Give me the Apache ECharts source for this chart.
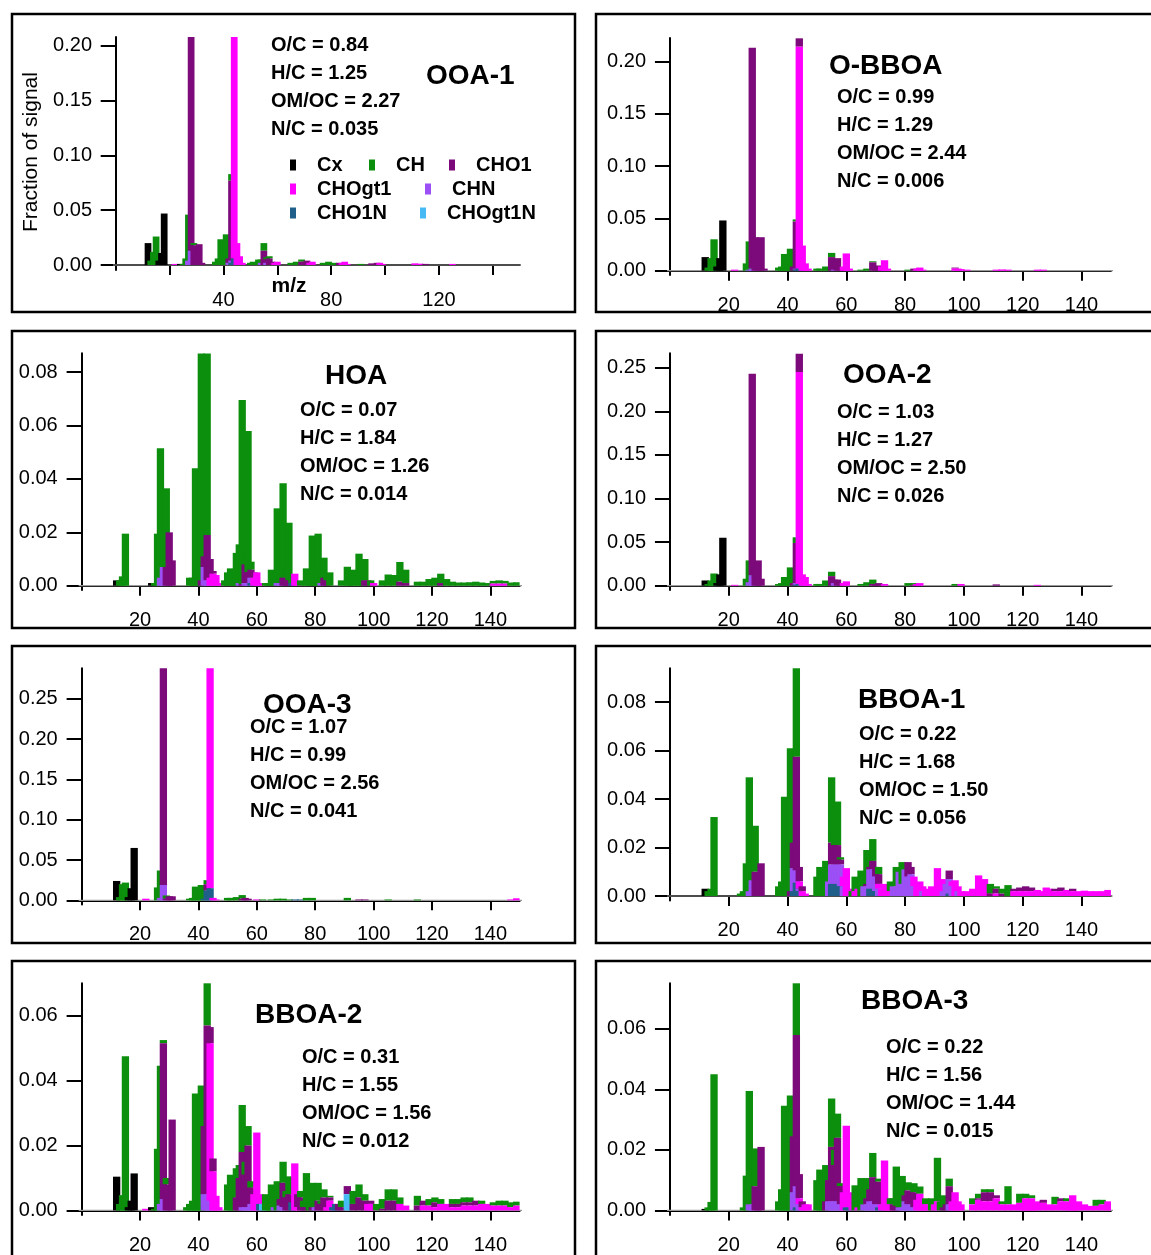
<!DOCTYPE html>
<html><head><meta charset="utf-8">
<script src="https://cdn.jsdelivr.net/npm/echarts@6/dist/echarts.min.js"></script>
<style>html,body{margin:0;padding:0;background:#fff}#c{width:1151px;height:1255px}</style>
</head><body><div id="c"></div>
<script>
// ---------- categories / labels ----------
const SPECIES = ['Cx','CH','CHO1','CHOgt1','CHN','CHO1N','CHOgt1N'];
const STACK_ORDER = ['CHOgt1N','CHO1N','CHN','CHOgt1','CHO1','CH','Cx']; // bottom -> top
const PANEL_NAMES = ['OOA-1','O-BBOA','HOA','OOA-2','OOA-3','BBOA-1','BBOA-2','BBOA-3'];
const PANEL_STATS = [
  ['O/C = 0.84','H/C = 1.25','OM/OC = 2.27','N/C = 0.035'],
  ['O/C = 0.99','H/C = 1.29','OM/OC = 2.44','N/C = 0.006'],
  ['O/C = 0.07','H/C = 1.84','OM/OC = 1.26','N/C = 0.014'],
  ['O/C = 1.03','H/C = 1.27','OM/OC = 2.50','N/C = 0.026'],
  ['O/C = 1.07','H/C = 0.99','OM/OC = 2.56','N/C = 0.041'],
  ['O/C = 0.22','H/C = 1.68','OM/OC = 1.50','N/C = 0.056'],
  ['O/C = 0.31','H/C = 1.55','OM/OC = 1.56','N/C = 0.012'],
  ['O/C = 0.22','H/C = 1.56','OM/OC = 1.44','N/C = 0.015']
];
const Y_TICKS = [
  [0,0.05,0.10,0.15,0.20],
  [0,0.05,0.10,0.15,0.20],
  [0,0.02,0.04,0.06,0.08],
  [0,0.05,0.10,0.15,0.20,0.25],
  [0,0.05,0.10,0.15,0.20,0.25],
  [0,0.02,0.04,0.06,0.08],
  [0,0.02,0.04,0.06],
  [0,0.02,0.04,0.06]
];
const Y_MAX = [0.2082,0.2223,0.0871,0.2665,0.288,0.094,0.070,0.0751];
const X_TICKS = [20,40,60,80,100,120,140];
const X_LABELS_FIRST = [40,80,120];
const X_MIN = -1, X_MAX = 150;

// ---------- series values: [m/z, fraction of signal] ----------
// OOA-1
const ooa1_Cx = [[12,0.020],[16,0.004],[17,0.011],[18,0.047],[24,0.001]];
const ooa1_CH = [[13,0.004],[14,0.012],[15,0.026],[25,0.001],[26,0.006],[27,0.042],[29,0.002],[37,0.003],[38,0.006],[39,0.0235],[40,0.004],[41,0.028],[42,0.008],[43,0.006],[50,0.002],[51,0.003],[52,0.002],[53,0.005],[54,0.003],[55,0.007],[56,0.002],[57,0.002],[65,0.002],[67,0.003],[69,0.002],[77,0.002],[79,0.003],[81,0.002],[91,0.001]];
const ooa1_CHO1 = [[28,0.26],[29,0.018],[30,0.010],[31,0.019],[32,0.002],[42,0.004],[43,0.073],[44,0.005],[55,0.013],[56,0.003],[57,0.006],[58,0.003],[69,0.003],[70,0.003],[71,0.004],[83,0.002],[95,0.0015],[97,0.002],[115,0.001]];
const ooa1_CHOgt1 = [[22,0.001],[44,0.25],[45,0.02],[46,0.008],[47,0.002],[59,0.002],[60,0.003],[72,0.002],[73,0.003],[84,0.002],[85,0.003],[86,0.001],[98,0.002],[99,0.001],[111,0.0015],[113,0.0012],[125,0.001]];
const ooa1_CHN = [[27,0.004],[28,0.013],[42,0.002],[43,0.002],[54,0.002],[56,0.002]];
const ooa1_CHO1N = [[43,0.002],[44,0.006]];
const ooa1_CHOgt1N = [];
// O-BBOA
const obboa_Cx = [[12,0.013],[16,0.004],[17,0.012],[18,0.048]];
const obboa_CH = [[13,0.003],[14,0.012],[15,0.030],[26,0.007],[27,0.027],[37,0.003],[38,0.004],[39,0.016],[40,0.003],[41,0.021],[42,0.006],[43,0.002],[50,0.002],[51,0.002],[53,0.004],[54,0.002],[55,0.004],[65,0.001],[67,0.002],[69,0.001],[81,0.001]];
const obboa_CHO1 = [[28,0.211],[29,0.032],[30,0.010],[31,0.032],[32,0.002],[42,0.004],[43,0.045],[44,0.008],[55,0.013],[56,0.004],[57,0.012],[58,0.003],[69,0.008],[70,0.002],[71,0.005],[83,0.002],[97,0.001]];
const obboa_CHOgt1 = [[22,0.001],[44,0.212],[45,0.024],[46,0.007],[47,0.002],[59,0.004],[60,0.0165],[61,0.002],[72,0.004],[73,0.010],[74,0.002],[84,0.002],[85,0.003],[86,0.001],[97,0.002],[98,0.002],[99,0.0015],[101,0.001],[111,0.001],[113,0.0012],[115,0.001],[125,0.001],[127,0.001]];
const obboa_CHN = [[27,0.001],[28,0.002],[43,0.001],[56,0.001]];
const obboa_CHO1N = [[43,0.001],[44,0.002]];
const obboa_CHOgt1N = [];
// HOA
const hoa_Cx = [[12,0.002],[24,0.001]];
const hoa_CH = [[13,0.002],[14,0.0035],[15,0.0195],[25,0.001],[26,0.0195],[27,0.0485],[28,0.002],[29,0.0295],[37,0.003],[38,0.003],[39,0.044],[40,0.004],[41,0.085],[42,0.005],[43,0.068],[49,0.002],[50,0.005],[51,0.0065],[52,0.003],[53,0.0123],[54,0.0145],[55,0.069],[56,0.003],[57,0.053],[58,0.003],[63,0.001],[64,0.001],[65,0.006],[66,0.003],[67,0.028],[68,0.005],[69,0.0354],[70,0.003],[71,0.0216],[72,0.002],[75,0.002],[77,0.0065],[78,0.003],[79,0.0188],[80,0.003],[81,0.0195],[82,0.003],[83,0.0075],[84,0.002],[85,0.005],[89,0.002],[91,0.0071],[92,0.002],[93,0.006],[95,0.012],[96,0.002],[97,0.008],[99,0.002],[103,0.002],[105,0.0042],[107,0.004],[109,0.0074],[111,0.005],[115,0.0015],[117,0.0015],[119,0.0025],[121,0.003],[123,0.0035],[125,0.0025],[127,0.0015],[129,0.0012],[131,0.0012],[133,0.0013],[135,0.0015],[137,0.0012],[139,0.001],[141,0.001],[143,0.0012],[145,0.001],[147,0.0012],[149,0.0013]];
const hoa_CHO1 = [[29,0.007],[30,0.020],[31,0.0095],[41,0.002],[42,0.004],[43,0.017],[44,0.007],[45,0.001],[55,0.0006],[56,0.007],[57,0.004],[58,0.003],[59,0.002],[69,0.003],[70,0.003],[71,0.002],[83,0.003],[84,0.002],[97,0.002],[98,0.002],[109,0.0015],[111,0.001],[123,0.001]];
const hoa_CHOgt1 = [[44,0.003],[45,0.0045],[46,0.004],[47,0.001],[59,0.003],[60,0.005],[61,0.001],[73,0.0045],[74,0.001],[100,0.001],[141,0.0008],[143,0.0008],[145,0.0008]];
const hoa_CHN = [[27,0.003],[28,0.007],[42,0.007],[43,0.002],[54,0.001],[56,0.001],[57,0.001],[58,0.002],[67,0.001],[68,0.001],[82,0.001]];
const hoa_CHO1N = [[58,0.001],[72,0.001]];
const hoa_CHOgt1N = [];
// OOA-2
const ooa2_Cx = [[12,0.006],[16,0.003],[17,0.013],[18,0.055]];
const ooa2_CH = [[13,0.002],[14,0.006],[15,0.014],[26,0.008],[27,0.025],[37,0.002],[38,0.003],[39,0.010],[40,0.003],[41,0.021],[42,0.006],[43,0.0065],[50,0.002],[51,0.002],[53,0.006],[54,0.002],[55,0.005],[65,0.002],[67,0.004],[69,0.005],[81,0.003],[83,0.002],[97,0.002]];
const ooa2_CHO1 = [[28,0.231],[29,0.020],[30,0.029],[31,0.008],[42,0.003],[43,0.046],[44,0.021],[55,0.011],[56,0.004],[57,0.007],[58,0.003],[69,0.002],[70,0.002],[71,0.003],[83,0.001],[111,0.0015]];
const ooa2_CHOgt1 = [[22,0.001],[44,0.243],[45,0.013],[46,0.010],[47,0.002],[59,0.003],[60,0.005],[73,0.002],[84,0.002],[85,0.003],[99,0.002],[125,0.001]];
const ooa2_CHN = [[27,0.004],[28,0.012],[43,0.002],[56,0.003]];
const ooa2_CHO1N = [[43,0.001],[44,0.002]];
const ooa2_CHOgt1N = [];
// OOA-3
const ooa3_Cx = [[12,0.024],[16,0.004],[17,0.015],[18,0.065]];
const ooa3_CH = [[13,0.004],[14,0.020],[15,0.022],[26,0.016],[27,0.034],[29,0.004],[37,0.002],[38,0.003],[39,0.017],[40,0.003],[41,0.019],[42,0.004],[43,0.005],[50,0.003],[51,0.003],[53,0.004],[55,0.0045],[62,0.001],[65,0.001],[67,0.002],[69,0.002],[71,0.001],[77,0.003],[79,0.003],[91,0.003],[105,0.001],[115,0.001]];
const ooa3_CHO1 = [[28,0.30],[29,0.002],[30,0.005],[31,0.005],[43,0.008],[44,0.003],[55,0.002],[56,0.003],[57,0.002],[95,0.001],[97,0.001]];
const ooa3_CHOgt1 = [[22,0.002],[44,0.30],[45,0.003],[46,0.001],[60,0.001],[147,0.001],[149,0.0025]];
const ooa3_CHN = [[27,0.003],[28,0.019]];
const ooa3_CHO1N = [[42,0.002],[43,0.012],[44,0.015],[73,0.001],[75,0.001]];
const ooa3_CHOgt1N = [];
// BBOA-1
const bboa1_Cx = [[12,0.003]];
const bboa1_CH = [[13,0.002],[14,0.003],[15,0.0326],[24,0.001],[25,0.002],[26,0.0135],[27,0.047],[28,0.003],[29,0.019],[37,0.004],[38,0.006],[39,0.041],[40,0.004],[41,0.059],[43,0.0368],[50,0.008],[51,0.012],[52,0.004],[53,0.0145],[54,0.004],[55,0.027],[56,0.004],[57,0.018],[58,0.001],[62,0.002],[63,0.006],[64,0.002],[65,0.0105],[66,0.005],[67,0.014],[68,0.004],[69,0.009],[71,0.003],[75,0.004],[77,0.008],[79,0.009],[80,0.001],[109,0.004],[111,0.001],[113,0.002],[115,0.0045]];
const bboa1_CHO1 = [[29,0.010],[30,0.007],[31,0.0135],[41,0.002],[42,0.0105],[43,0.047],[44,0.006],[45,0.002],[55,0.009],[56,0.008],[57,0.008],[58,0.002],[67,0.001],[68,0.001],[69,0.0035],[70,0.004],[71,0.004],[81,0.006],[82,0.003],[95,0.0035],[109,0.001],[111,0.002],[113,0.001],[117,0.001],[119,0.0015],[121,0.002],[123,0.0015],[131,0.001],[133,0.0015],[137,0.001]];
const bboa1_CHOgt1 = [[44,0.003],[45,0.002],[46,0.001],[59,0.004],[60,0.0115],[61,0.003],[63,0.002],[64,0.003],[71,0.002],[72,0.003],[73,0.005],[74,0.003],[75,0.002],[83,0.004],[84,0.005],[85,0.006],[86,0.002],[87,0.003],[88,0.002],[89,0.004],[90,0.002],[91,0.0115],[92,0.004],[93,0.005],[96,0.002],[97,0.0065],[98,0.002],[99,0.002],[101,0.002],[103,0.003],[105,0.0085],[106,0.004],[107,0.007],[108,0.003],[111,0.001],[117,0.002],[119,0.002],[121,0.002],[123,0.002],[125,0.0025],[127,0.002],[128,0.0035],[129,0.003],[131,0.002],[133,0.002],[135,0.0025],[137,0.002],[139,0.002],[141,0.0022],[143,0.002],[145,0.002],[147,0.002],[149,0.0025]];
const bboa1_CHN = [[27,0.002],[28,0.0065],[42,0.0095],[43,0.005],[44,0.001],[54,0.006],[55,0.008],[56,0.008],[57,0.008],[58,0.009],[59,0.004],[66,0.004],[67,0.004],[68,0.008],[69,0.008],[70,0.006],[71,0.003],[76,0.004],[77,0.004],[78,0.010],[79,0.005],[80,0.011],[81,0.008],[82,0.009],[83,0.004],[86,0.002],[93,0.002],[94,0.005],[95,0.006],[96,0.004],[98,0.002]];
const bboa1_CHO1N = [[42,0.002],[43,0.0055],[44,0.002],[55,0.005],[56,0.005],[57,0.005],[58,0.004],[68,0.003],[69,0.003],[70,0.002],[95,0.001]];
const bboa1_CHOgt1N = [];
// BBOA-2
const bboa2_Cx = [[12,0.0104],[16,0.001],[17,0.003],[18,0.0114],[24,0.001]];
const bboa2_CH = [[13,0.002],[14,0.0047],[15,0.0475],[25,0.0005],[26,0.019],[27,0.0426],[28,0.001],[29,0.002],[36,0.001],[37,0.002],[38,0.003],[39,0.036],[40,0.003],[41,0.0385],[43,0.013],[50,0.008],[51,0.011],[52,0.004],[53,0.009],[54,0.004],[55,0.0145],[56,0.004],[57,0.006],[58,0.002],[63,0.005],[64,0.001],[65,0.008],[66,0.003],[67,0.009],[68,0.003],[69,0.0065],[70,0.002],[71,0.0055],[75,0.002],[76,0.002],[77,0.0105],[78,0.002],[79,0.0075],[80,0.001],[81,0.0055],[82,0.001],[83,0.0025],[85,0.0005],[89,0.002],[93,0.004],[95,0.004],[97,0.002],[101,0.002],[103,0.003],[105,0.0035],[107,0.0035],[109,0.002],[115,0.003],[119,0.002],[121,0.0015],[123,0.0015],[127,0.0015],[129,0.0015],[131,0.0015],[133,0.0015],[137,0.001],[141,0.001],[143,0.0015],[145,0.0015],[147,0.0015],[149,0.0012]];
const bboa2_CHO1 = [[28,0.048],[29,0.008],[30,0.004],[31,0.028],[42,0.021],[43,0.052],[44,0.005],[45,0.004],[53,0.004],[54,0.010],[55,0.017],[56,0.010],[57,0.019],[58,0.005],[59,0.002],[68,0.002],[69,0.0075],[70,0.004],[71,0.005],[72,0.002],[74,0.004],[75,0.004],[76,0.001],[77,0.001],[79,0.001],[81,0.003],[82,0.002],[83,0.004],[84,0.002],[85,0.001],[88,0.002],[89,0.001],[91,0.0025],[93,0.002],[95,0.004],[97,0.003],[99,0.001],[103,0.0005],[105,0.003],[107,0.003],[115,0.0015],[117,0.0015],[121,0.0015],[127,0.001],[129,0.001],[131,0.001],[133,0.001],[135,0.0015]];
const bboa2_CHOgt1 = [[22,0.0005],[44,0.0485],[45,0.012],[46,0.0045],[47,0.001],[59,0.005],[60,0.024],[61,0.003],[73,0.0145],[74,0.001],[84,0.001],[85,0.003],[86,0.001],[98,0.002],[99,0.002],[100,0.001],[109,0.002],[111,0.0015],[117,0.0015],[119,0.0015],[121,0.001],[123,0.002],[125,0.002],[127,0.001],[129,0.001],[131,0.0015],[133,0.0015],[135,0.0015],[137,0.002],[139,0.002],[141,0.0015],[143,0.0015],[145,0.0015],[147,0.001],[149,0.0015]];
const bboa2_CHN = [[27,0.002],[28,0.0035],[42,0.005],[43,0.005],[44,0.003],[55,0.001],[56,0.001],[57,0.001],[58,0.002],[66,0.001],[68,0.0015],[69,0.001],[80,0.001]];
const bboa2_CHO1N = [[61,0.002],[72,0.0025],[86,0.001],[87,0.002]];
const bboa2_CHOgt1N = [[62,0.002],[91,0.005]];
// BBOA-3
const bboa3_Cx = [[12,0.0005]];
const bboa3_CH = [[13,0.001],[14,0.0028],[15,0.045],[25,0.001],[26,0.0115],[27,0.0375],[28,0.003],[29,0.0125],[37,0.003],[38,0.007],[39,0.0346],[40,0.003],[41,0.038],[43,0.0171],[50,0.010],[51,0.0135],[52,0.004],[53,0.012],[54,0.004],[55,0.016],[56,0.005],[57,0.008],[58,0.001],[63,0.0083],[64,0.002],[65,0.0107],[66,0.004],[67,0.0067],[68,0.002],[69,0.008],[71,0.001],[75,0.002],[76,0.002],[77,0.013],[78,0.002],[79,0.0104],[81,0.0027],[83,0.003],[85,0.0024],[87,0.002],[89,0.004],[91,0.0144],[92,0.003],[93,0.004],[95,0.0025],[103,0.002],[105,0.0015],[107,0.001],[109,0.001],[113,0.001],[115,0.006],[119,0.003],[121,0.0015],[123,0.001],[131,0.0025],[135,0.001],[145,0.002],[147,0.0015]];
const bboa3_CHO1 = [[29,0.008],[30,0.005],[31,0.021],[42,0.0185],[43,0.050],[44,0.008],[45,0.002],[53,0.003],[54,0.007],[55,0.018],[56,0.012],[57,0.021],[58,0.006],[59,0.002],[67,0.002],[68,0.004],[69,0.008],[70,0.007],[71,0.0075],[72,0.003],[76,0.002],[77,0.0015],[80,0.002],[81,0.0046],[82,0.004],[83,0.005],[84,0.002],[93,0.001],[94,0.002],[95,0.006],[96,0.002],[105,0.0005],[107,0.003],[109,0.003],[111,0.001],[127,0.001],[133,0.001]];
const bboa3_CHOgt1 = [[44,0.002],[45,0.001],[46,0.002],[47,0.002],[59,0.006],[60,0.027],[61,0.005],[62,0.003],[64,0.001],[72,0.002],[73,0.0165],[74,0.004],[75,0.002],[84,0.0035],[85,0.0055],[86,0.003],[87,0.002],[88,0.002],[90,0.002],[91,0.003],[96,0.003],[97,0.006],[98,0.003],[99,0.002],[103,0.002],[105,0.0035],[107,0.003],[109,0.003],[111,0.004],[113,0.002],[115,0.002],[117,0.002],[119,0.0025],[120,0.0015],[121,0.004],[122,0.002],[123,0.004],[124,0.0015],[125,0.003],[127,0.0025],[129,0.002],[131,0.002],[133,0.003],[135,0.003],[136,0.002],[137,0.005],[138,0.002],[139,0.003],[141,0.002],[143,0.0015],[145,0.0015],[147,0.002],[149,0.003],[150,0.0025]];
const bboa3_CHN = [[27,0.002],[28,0.002],[42,0.006],[43,0.007],[44,0.002],[54,0.003],[55,0.003],[56,0.003],[57,0.003],[58,0.002],[66,0.002],[67,0.002],[68,0.003],[69,0.003],[70,0.002],[71,0.001],[78,0.001],[79,0.001],[80,0.003],[81,0.002],[82,0.002],[83,0.001],[95,0.002]];
const bboa3_CHO1N = [[43,0.001],[60,0.001],[61,0.001],[71,0.001]];
const bboa3_CHOgt1N = [];

// ---------- styles & layout ----------
const COLORS = {Cx:'#000000', CH:'#0c8f0c', CHO1:'#7c0a7a', CHOgt1:'#ff00ff', CHN:'#9b4ff5', CHO1N:'#1f5f8a', CHOgt1N:'#45baf5'};
const FONT = '"Liberation Sans", Arial, Helvetica, sans-serif';
const BAR_W = 2.5;
// left/right: pixel of m/z -1 and 150; top: axis top; zero: y of 0; bottom: x-axis line
const LAYOUT = [
  {left:113.0, right:519.8, top:37,    zero:265,    bottom:270},
  {left:667.0, right:1110.9,top:38,    zero:270.7,  bottom:275},
  {left:78.7,  right:519.6, top:353.3, zero:585.7,  bottom:590},
  {left:667.0, right:1110.9,top:353.3, zero:585.7,  bottom:590},
  {left:78.7,  right:519.6, top:668.3, zero:900.3,  bottom:904.6},
  {left:667.0, right:1110.9,top:668.3, zero:896,    bottom:900.6},
  {left:78.7,  right:519.6, top:983.3, zero:1211,   bottom:1215.6},
  {left:667.0, right:1110.9,top:983.3, zero:1215.3, bottom:1220}
];
const TEXT_POS = [
  {tx:426, ty:76,   sx:271, sy:45},
  {tx:829, ty:66,   sx:837, sy:97},
  {tx:325, ty:376,  sx:300, sy:410},
  {tx:843, ty:375,  sx:837, sy:412},
  {tx:263, ty:705,  sx:250, sy:727},
  {tx:858, ty:700,  sx:859, sy:734},
  {tx:255, ty:1015, sx:302, sy:1057},
  {tx:861, ty:1001, sx:886, sy:1047}
];
const BOXES = [
  [12,14,563,298],[596,14,580,298],
  [12,331,563,297],[596,331,580,297],
  [12,646,563,297],[596,646,580,297],
  [12,961,563,320],[596,961,580,320]
];
const LEGEND_POS = {Cx:[290,166], CH:[369,166], CHO1:[449,166], CHOgt1:[290,190], CHN:[425,190], CHO1N:[290,214], CHOgt1N:[420,214]};

const PANEL_SPECIES = [
  {Cx:ooa1_Cx, CH:ooa1_CH, CHO1:ooa1_CHO1, CHOgt1:ooa1_CHOgt1, CHN:ooa1_CHN, CHO1N:ooa1_CHO1N, CHOgt1N:ooa1_CHOgt1N},
  {Cx:obboa_Cx, CH:obboa_CH, CHO1:obboa_CHO1, CHOgt1:obboa_CHOgt1, CHN:obboa_CHN, CHO1N:obboa_CHO1N, CHOgt1N:obboa_CHOgt1N},
  {Cx:hoa_Cx, CH:hoa_CH, CHO1:hoa_CHO1, CHOgt1:hoa_CHOgt1, CHN:hoa_CHN, CHO1N:hoa_CHO1N, CHOgt1N:hoa_CHOgt1N},
  {Cx:ooa2_Cx, CH:ooa2_CH, CHO1:ooa2_CHO1, CHOgt1:ooa2_CHOgt1, CHN:ooa2_CHN, CHO1N:ooa2_CHO1N, CHOgt1N:ooa2_CHOgt1N},
  {Cx:ooa3_Cx, CH:ooa3_CH, CHO1:ooa3_CHO1, CHOgt1:ooa3_CHOgt1, CHN:ooa3_CHN, CHO1N:ooa3_CHO1N, CHOgt1N:ooa3_CHOgt1N},
  {Cx:bboa1_Cx, CH:bboa1_CH, CHO1:bboa1_CHO1, CHOgt1:bboa1_CHOgt1, CHN:bboa1_CHN, CHO1N:bboa1_CHO1N, CHOgt1N:bboa1_CHOgt1N},
  {Cx:bboa2_Cx, CH:bboa2_CH, CHO1:bboa2_CHO1, CHOgt1:bboa2_CHOgt1, CHN:bboa2_CHN, CHO1N:bboa2_CHO1N, CHOgt1N:bboa2_CHOgt1N},
  {Cx:bboa3_Cx, CH:bboa3_CH, CHO1:bboa3_CHO1, CHOgt1:bboa3_CHOgt1, CHN:bboa3_CHN, CHO1N:bboa3_CHO1N, CHOgt1N:bboa3_CHOgt1N}
];

// stack the species per m/z -> [mz, base, top]
function stackPanel(spec) {
  const byMz = {};
  SPECIES.forEach(s => spec[s].forEach(p => { (byMz[p[0]] = byMz[p[0]] || {})[s] = p[1]; }));
  const out = {}; SPECIES.forEach(s => out[s] = []);
  Object.keys(byMz).map(Number).sort((a, b) => a - b).forEach(mz => {
    let base = 0;
    STACK_ORDER.forEach(s => {
      const v = byMz[mz][s];
      if (v) { out[s].push([mz, base, base + v]); base += v; }
    });
  });
  return out;
}

const grids = [], xAxes = [], yAxes = [], series = [], graphics = [];
LAYOUT.forEach((L, i) => {
  grids.push({left: L.left, top: L.top, width: L.right - L.left, height: L.bottom - L.top});
  const yMax = Y_MAX[i];
  const yMin = -(L.bottom - L.zero) / (L.zero - L.top) * yMax;
  xAxes.push({
    type: 'value', gridIndex: i, min: X_MIN, max: X_MAX,
    axisLine: {show: true, lineStyle: {color: '#000', width: 2}},
    axisTick: {show: true, length: 10, lineStyle: {color: '#000', width: 2}, customValues: X_TICKS},
    axisLabel: {show: true, margin: 20, color: '#000', fontSize: 20, fontFamily: FONT,
      customValues: i === 0 ? X_LABELS_FIRST : X_TICKS},
    splitLine: {show: false}
  });
  yAxes.push({
    type: 'value', gridIndex: i, min: yMin, max: yMax,
    axisLine: {show: true, lineStyle: {color: '#000', width: 2}},
    axisTick: {show: true, length: 15, lineStyle: {color: '#000', width: 2}, customValues: Y_TICKS[i]},
    axisLabel: {show: true, margin: 21, color: '#000', fontSize: 20, fontFamily: FONT,
      customValues: Y_TICKS[i], formatter: v => Number(v).toFixed(2)},
    splitLine: {show: false}
  });
  // grey zero line
  series.push({
    type: 'line', xAxisIndex: i, yAxisIndex: i, data: [[X_MIN, 0], [X_MAX + 1.5, 0]],
    symbol: 'none', clip: false, silent: true, animation: false, z: 1,
    lineStyle: {color: '#9a9a9a', width: 1.2}
  });
  const stacked = stackPanel(PANEL_SPECIES[i]);
  SPECIES.forEach(s => {
    const color = COLORS[s];
    series.push({
      type: 'custom', name: s, xAxisIndex: i, yAxisIndex: i,
      data: stacked[s], encode: {x: 0, y: [1, 2]},
      itemStyle: {color: color}, silent: true, animation: false,
      renderItem: function (params, api) {
        const mz = api.value(0), b = api.value(1), t = api.value(2);
        const p0 = api.coord([mz - BAR_W / 2, b]);
        const p1 = api.coord([mz + BAR_W / 2, t]);
        const cs = params.coordSys;
        const rect = echarts.graphic.clipRectByRect(
          {x: p0[0], y: p1[1], width: p1[0] - p0[0], height: p0[1] - p1[1]},
          {x: cs.x, y: cs.y, width: cs.width, height: cs.height});
        if (!rect) return;
        return {type: 'rect', shape: rect, style: {fill: color}, z2: mz};
      }
    });
  });
  // panel texts
  const T = TEXT_POS[i];
  graphics.push({type: 'text', x: T.tx, y: T.ty, silent: true,
    style: {text: PANEL_NAMES[i], font: 'bold 28px ' + FONT, fill: '#000',
      textAlign: 'left', textVerticalAlign: 'middle', align: 'left', verticalAlign: 'middle'}});
  PANEL_STATS[i].forEach((line, k) => {
    graphics.push({type: 'text', x: T.sx, y: T.sy + 28 * k, silent: true,
      style: {text: line, font: 'bold 20px ' + FONT, fill: '#000',
        textAlign: 'left', textVerticalAlign: 'middle', align: 'left', verticalAlign: 'middle'}});
  });
});

// y title and x-axis name on the first panel
graphics.push({type: 'text', x: 31, y: 152, rotation: Math.PI / 2, silent: true,
  style: {text: 'Fraction of signal', font: '21px ' + FONT, fill: '#000',
    textAlign: 'center', textVerticalAlign: 'middle', align: 'center', verticalAlign: 'middle'}});
graphics.push({type: 'text', x: 289, y: 286, silent: true,
  style: {text: 'm/z', font: 'bold 21px ' + FONT, fill: '#000',
    textAlign: 'center', textVerticalAlign: 'middle', align: 'center', verticalAlign: 'middle'}});
// panel frames
BOXES.forEach(b => graphics.push({type: 'rect', silent: true, z: 100,
  shape: {x: b[0], y: b[1], width: b[2], height: b[3]},
  style: {fill: 'none', stroke: '#000', lineWidth: 2.5}}));

const legends = SPECIES.map(s => ({
  data: [s], left: LEGEND_POS[s][0], top: LEGEND_POS[s][1] - 11, orient: 'horizontal',
  icon: 'rect', itemWidth: 6, itemHeight: 11, padding: 0, itemGap: 0, selectedMode: false,
  textStyle: {fontSize: 20, fontWeight: 'bold', fontFamily: FONT, color: '#000', padding: [0, 0, 0, 16]}
}));

const chart = echarts.init(document.getElementById('c'), null, {renderer: 'canvas', width: 1151, height: 1255});
chart.setOption({
  animation: false,
  backgroundColor: '#fff',
  grid: grids, xAxis: xAxes, yAxis: yAxes,
  legend: legends,
  series: series,
  graphic: graphics
});
</script></body></html>
